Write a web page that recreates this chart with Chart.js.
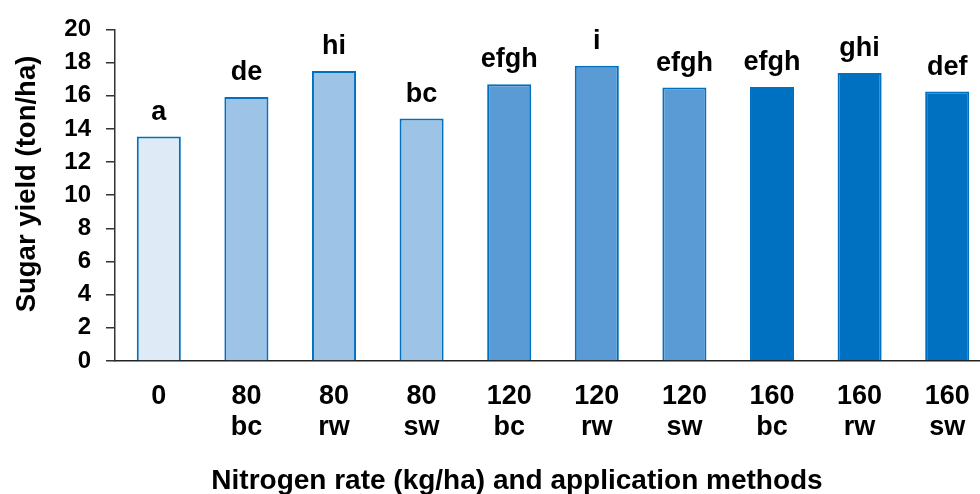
<!DOCTYPE html>
<html>
<head>
<meta charset="utf-8">
<script src="https://cdn.jsdelivr.net/npm/chart.js@4/dist/chart.umd.min.js"></script>
<style>
  html, body { margin: 0; padding: 0; background: #fff; overflow: hidden; width: 980px; height: 494px; }
  canvas { display: block; }
</style>
</head>
<body>
<canvas id="c" width="992" height="494"></canvas>
<script>
// ---- data ----
const rates = ['0', '80', '80', '80', '120', '120', '120', '160', '160', '160'];
const methods = ['', 'bc', 'rw', 'sw', 'bc', 'rw', 'sw', 'bc', 'rw', 'sw'];
const sugarYield = [13.54, 15.93, 17.49, 14.62, 16.69, 17.81, 16.49, 16.53, 17.37, 16.25];
const groupLetters = ['a', 'de', 'hi', 'bc', 'efgh', 'i', 'efgh', 'efgh', 'ghi', 'def'];
const yTicks = [0, 2, 4, 6, 8, 10, 12, 14, 16, 18, 20];
const xTitle = 'Nitrogen rate (kg/ha) and application methods';
const yTitle = 'Sugar yield (ton/ha)';

// ---- styles ----
const fillByRate = { '0': '#DEEBF7', '80': '#9DC3E6', '120': '#5B9BD5', '160': '#0070C0' };
const FONT = '"Liberation Sans", Arial, sans-serif';

const labels = rates.map((r, i) => methods[i] ? [r, methods[i]] : [r]);

const annotatePlugin = {
  id: 'annotate',
  afterDatasetsDraw(chart) {
    const ctx = chart.ctx;
    const meta = chart.getDatasetMeta(0);
    ctx.save();
    ctx.font = 'bold 27px ' + FONT;
    ctx.fillStyle = '#000';
    ctx.textAlign = 'center';
    ctx.textBaseline = 'alphabetic';
    meta.data.forEach((bar, i) => {
      ctx.fillText(groupLetters[i], bar.x, bar.y - 17);
    });
    // axis titles
    ctx.font = 'bold 28px ' + FONT;
    ctx.fillText(xTitle, 517, 489);
    ctx.translate(34.5, 184);
    ctx.rotate(-Math.PI / 2);
    ctx.font = 'bold 27.5px ' + FONT;
    ctx.fillText(yTitle, 0, 0);
    ctx.restore();
  }
};

new Chart(document.getElementById('c'), {
  type: 'bar',
  data: {
    labels: labels,
    datasets: [{
      data: sugarYield,
      backgroundColor: rates.map(r => fillByRate[r]),
      borderColor: '#0070C0',
      borderWidth: 2,
      borderSkipped: 'start',
      categoryPercentage: 1,
      barPercentage: 0.503
    }]
  },
  options: {
    responsive: false,
    animation: false,
    layout: { padding: { top: 28, right: 1, left: 0, bottom: 0 } },
    plugins: { legend: { display: false }, tooltip: { enabled: false } },
    scales: {
      x: {
        grid: { display: false, drawTicks: false },
        border: { display: true, color: '#222', width: 1.5 },
        ticks: {
          color: '#000',
          font: { family: FONT, size: 27, weight: 'bold', lineHeight: 1.15 },
          padding: 20,
          maxRotation: 0,
          autoSkip: false
        },
        title: { display: false },
        afterFit(scale) { scale.height = 133; }
      },
      y: {
        min: 0,
        max: 20,
        afterBuildTicks(scale) { scale.ticks = yTicks.map(v => ({ value: v })); },
        grid: { display: true, drawOnChartArea: false, drawTicks: true, tickLength: 9, color: '#333', lineWidth: 1.5 },
        border: { display: true, color: '#333', width: 1.5 },
        ticks: {
          color: '#000',
          font: { family: FONT, size: 24, weight: 'bold' },
          padding: 15
        },
        title: { display: false },
        afterFit(scale) { scale.width = 115; }
      }
    }
  },
  plugins: [annotatePlugin]
});
</script>
</body>
</html>
